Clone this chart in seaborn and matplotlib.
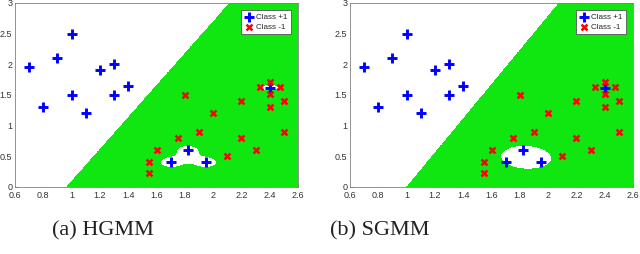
import numpy as np
import pandas as pd
import matplotlib
matplotlib.use("Agg")
import matplotlib.pyplot as plt
import seaborn as sns
from matplotlib.colors import ListedColormap

sns.set_style("white")
plt.rcParams['font.family'] = ['Liberation Sans', 'DejaVu Sans']

# Data
pos_x = [0.7, 0.8, 0.9, 1.0, 1.0, 1.1, 1.2, 1.3, 1.3, 1.4, 1.7, 1.82, 1.95, 2.4]
pos_y = [1.95, 1.3, 2.1, 2.5, 1.5, 1.2, 1.9, 2.0, 1.5, 1.65, 0.4, 0.6, 0.4, 1.62]
neg_x = [1.55, 1.55, 1.6, 1.75, 1.8, 1.9, 2.0, 2.1, 2.2, 2.2, 2.3, 2.33, 2.4, 2.4, 2.4, 2.47, 2.5, 2.5]
neg_y = [0.4, 0.23, 0.6, 0.8, 1.5, 0.9, 1.2, 0.5, 1.4, 0.8, 0.6, 1.63, 1.72, 1.52, 1.3, 1.63, 1.4, 0.9]
captions = ["(a) HGMM", "(b) SGMM"]
xticks = [0.6, 0.8, 1, 1.2, 1.4, 1.6, 1.8, 2, 2.2, 2.4, 2.6]
yticks = [0, 0.5, 1, 1.5, 2, 2.5, 3]
xtick_labels = ["0.6", "0.8", "1", "1.2", "1.4", "1.6", "1.8", "2", "2.2", "2.4", "2.6"]
ytick_labels = ["0", "0.5", "1", "1.5", "2", "2.5", "3"]

# Decision boundary parameters (line through two points)
line_pts = [((0.967, 0.0), (2.12, 3.0)), ((1.003, 0.0), (2.08, 3.0))]

df_pos = pd.DataFrame({"x": pos_x, "y": pos_y})
df_neg = pd.DataFrame({"x": neg_x, "y": neg_y})

gx = np.linspace(0.6, 2.6, 700)
gy = np.linspace(0, 3, 700)
X, Y = np.meshgrid(gx, gy)

def bump(X, Y, cx, cy, sx, sy):
    return np.exp(-((X - cx) ** 2 / (2 * sx ** 2) + (Y - cy) ** 2 / (2 * sy ** 2)))

def region_hgmm(X, Y):
    (x0, y0), (x1, y1) = line_pts[0]
    s = (y1 - y0) / (x1 - x0)
    green = Y < s * (X - x0)
    g = np.zeros_like(X)
    for cx, cy in [(1.7, 0.4), (1.82, 0.6), (1.95, 0.4)]:
        g += bump(X, Y, cx, cy, 0.052, 0.057)
    g += 0.6 * bump(X, Y, 1.825, 0.46, 0.09, 0.075)
    g2 = bump(X, Y, 2.4, 1.62, 0.045, 0.04)
    blob = (g > 0.4) | (g2 > 0.4)
    return (green & ~blob).astype(float)

def region_sgmm(X, Y):
    (x0, y0), (x1, y1) = line_pts[1]
    s = (y1 - y0) / (x1 - x0)
    green = Y < s * (X - x0)
    u = X - 1.845
    v = Y - 0.485
    q = (u / 0.18) ** 2 + (v / 0.195) ** 2 + 5.0 * u * v
    blob = q < 1
    return (green & ~blob).astype(float)

fig = plt.figure(figsize=(6.4, 2.54), dpi=100)
lefts = [15 / 640, 350 / 640]
regions = [region_hgmm, region_sgmm]
green_cmap = ListedColormap(["white", "#10e610"])

for i in range(2):
    ax = fig.add_axes([lefts[i], 67 / 254, 283 / 640, 184 / 254])
    Z = regions[i](X, Y)
    ax.contourf(X, Y, Z, levels=[-0.5, 0.5, 1.5], cmap=green_cmap)
    sns.scatterplot(data=df_pos, x="x", y="y", ax=ax, marker="+", s=42,
                    color="#0000ff", linewidth=2.1, label="Class +1", zorder=3)
    sns.scatterplot(data=df_neg, x="x", y="y", ax=ax, marker="x", s=18,
                    color="#ff0000", linewidth=1.8, label="Class -1", zorder=3)
    ax.set_xlim(0.6, 2.6)
    ax.set_ylim(0, 3)
    ax.set_xticks(xticks)
    ax.set_xticklabels(xtick_labels)
    ax.set_yticks(yticks)
    ax.set_yticklabels(ytick_labels)
    ax.set_xlabel("")
    ax.set_ylabel("")
    ax.tick_params(direction="in", length=2, width=0.5, labelsize=6.5, pad=2,
                   colors="#333333", top=False, right=False, bottom=True, left=True)
    ax.tick_params(axis="x", pad=3)
    for sp in ax.spines.values():
        sp.set_color("#808080")
        sp.set_linewidth(0.6)
    leg = ax.legend(loc="upper right", fontsize=5.8, frameon=True, fancybox=False,
                    borderpad=0.4, handletextpad=0.3, labelspacing=0.3,
                    handlelength=1.2, borderaxespad=0.9)
    leg.get_frame().set_edgecolor("#555555")
    leg.get_frame().set_linewidth(0.6)
    leg.get_frame().set_alpha(1.0)

fig.text(103 / 640, 1 - 231 / 254, captions[0], ha="center", va="center",
         fontsize=16, family=["Liberation Serif", "DejaVu Serif"], color="#222222")
fig.text(380 / 640, 1 - 231 / 254, captions[1], ha="center", va="center",
         fontsize=16, family=["Liberation Serif", "DejaVu Serif"], color="#222222")

fig.savefig("out.png", dpi=100)
